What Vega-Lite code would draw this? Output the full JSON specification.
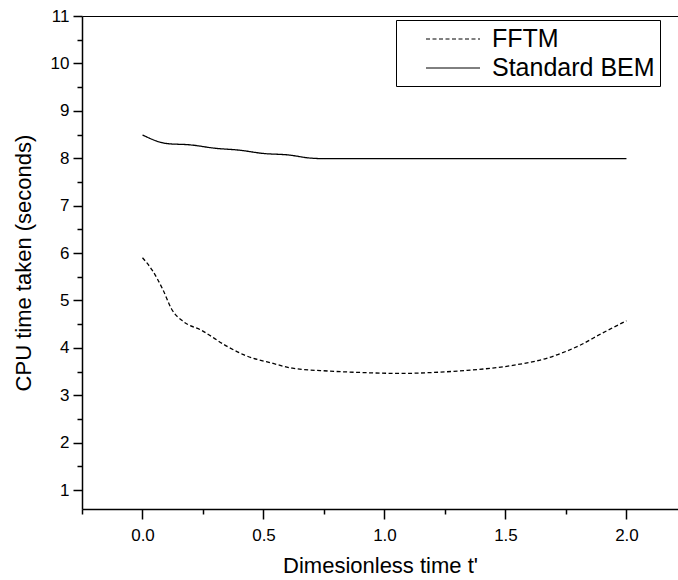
{
  "$schema": "https://vega.github.io/schema/vega-lite/v6.json",
  "width": 596,
  "height": 493,
  "autosize": {"type": "none"},
  "padding": {"left": 82, "top": 16, "right": 0, "bottom": 71},
  "background": "white",
  "config": {
    "font": "Liberation Sans",
    "view": {"stroke": null}
  },
  "data": {
    "values": [
      {"t": 0.0, "cpu": 5.90, "method": "FFTM"},
      {"t": 0.04, "cpu": 5.64, "method": "FFTM"},
      {"t": 0.085, "cpu": 5.22, "method": "FFTM"},
      {"t": 0.12, "cpu": 4.82, "method": "FFTM"},
      {"t": 0.17, "cpu": 4.55, "method": "FFTM"},
      {"t": 0.24, "cpu": 4.38, "method": "FFTM"},
      {"t": 0.35, "cpu": 4.03, "method": "FFTM"},
      {"t": 0.42, "cpu": 3.85, "method": "FFTM"},
      {"t": 0.54, "cpu": 3.67, "method": "FFTM"},
      {"t": 0.62, "cpu": 3.57, "method": "FFTM"},
      {"t": 0.77, "cpu": 3.51, "method": "FFTM"},
      {"t": 0.9, "cpu": 3.48, "method": "FFTM"},
      {"t": 1.07, "cpu": 3.46, "method": "FFTM"},
      {"t": 1.2, "cpu": 3.48, "method": "FFTM"},
      {"t": 1.33, "cpu": 3.52, "method": "FFTM"},
      {"t": 1.53, "cpu": 3.63, "method": "FFTM"},
      {"t": 1.67, "cpu": 3.78, "method": "FFTM"},
      {"t": 1.81, "cpu": 4.06, "method": "FFTM"},
      {"t": 1.9, "cpu": 4.31, "method": "FFTM"},
      {"t": 2.0, "cpu": 4.57, "method": "FFTM"},
      {"t": 0.0, "cpu": 8.49, "method": "Standard BEM"},
      {"t": 0.1, "cpu": 8.31, "method": "Standard BEM"},
      {"t": 0.2, "cpu": 8.28, "method": "Standard BEM"},
      {"t": 0.3, "cpu": 8.21, "method": "Standard BEM"},
      {"t": 0.4, "cpu": 8.17, "method": "Standard BEM"},
      {"t": 0.5, "cpu": 8.10, "method": "Standard BEM"},
      {"t": 0.6, "cpu": 8.07, "method": "Standard BEM"},
      {"t": 0.7, "cpu": 8.00, "method": "Standard BEM"},
      {"t": 0.76, "cpu": 7.99, "method": "Standard BEM"},
      {"t": 1.0, "cpu": 7.99, "method": "Standard BEM"},
      {"t": 1.5, "cpu": 7.99, "method": "Standard BEM"},
      {"t": 2.0, "cpu": 7.99, "method": "Standard BEM"}
    ]
  },
  "mark": {"type": "line", "color": "black", "strokeWidth": 1.3, "interpolate": "monotone"},
  "encoding": {
    "x": {
      "field": "t",
      "type": "quantitative",
      "scale": {"domain": [-0.25, 2.213], "nice": false, "zero": false},
      "axis": {
        "title": "Dimesionless time t'",
        "titleFontSize": 22,
        "titleFontWeight": "normal",
        "titleColor": "black",
        "titlePadding": 12,
        "values": [-0.25, 0, 0.25, 0.5, 0.75, 1, 1.25, 1.5, 1.75, 2],
        "labelExpr": "abs(datum.value % 0.5) < 0.001 ? format(datum.value, '.1f') : ''",
        "labelFontSize": 17,
        "labelColor": "black",
        "labelOverlap": false,
        "labelPadding": 8,
        "labelFlush": false,
        "domainColor": "black",
        "domainWidth": 1.5,
        "tickColor": "black",
        "tickWidth": 1.5,
        "tickSize": {"condition": {"test": "abs(datum.value % 0.5) < 0.001", "value": 10}, "value": 5},
        "grid": false
      }
    },
    "y": {
      "field": "cpu",
      "type": "quantitative",
      "scale": {"domain": [0.6, 11], "nice": false, "zero": false},
      "axis": {
        "title": "CPU time taken (seconds)",
        "titleFontSize": 22,
        "titleFontWeight": "normal",
        "titleColor": "black",
        "titlePadding": 15,
        "values": [1, 1.5, 2, 2.5, 3, 3.5, 4, 4.5, 5, 5.5, 6, 6.5, 7, 7.5, 8, 8.5, 9, 9.5, 10, 10.5, 11],
        "labelExpr": "datum.value % 1 === 0 ? format(datum.value, 'd') : ''",
        "labelFontSize": 17,
        "labelColor": "black",
        "labelOverlap": false,
        "labelPadding": 4,
        "labelFlush": false,
        "domainColor": "black",
        "domainWidth": 1.5,
        "tickColor": "black",
        "tickWidth": 1.5,
        "tickSize": {"condition": {"test": "datum.value % 1 === 0", "value": 9}, "value": 5},
        "grid": true,
        "gridColor": "black",
        "gridWidth": 1.2,
        "gridOpacity": {"condition": {"test": "datum.value === 11", "value": 1}, "value": 0}
      }
    },
    "strokeDash": {
      "field": "method",
      "type": "nominal",
      "scale": {"domain": ["FFTM", "Standard BEM"], "range": [[4, 2.5], [1, 0]]},
      "legend": {
        "title": null,
        "orient": "none",
        "legendX": 314,
        "legendY": 4,
        "padding": 5,
        "symbolOffset": 38,
        "symbolType": "M-2,0H2",
        "symbolSize": 729,
        "symbolStrokeColor": "black",
        "symbolStrokeWidth": 1,
        "symbolDash": [2, 1.5],
        "labelFontSize": 25,
        "labelColor": "black",
        "labelOffset": 25,
        "labelLimit": 300,
        "rowPadding": 2,
        "strokeColor": "black",
        "fillColor": "white"
      }
    }
  }
}
